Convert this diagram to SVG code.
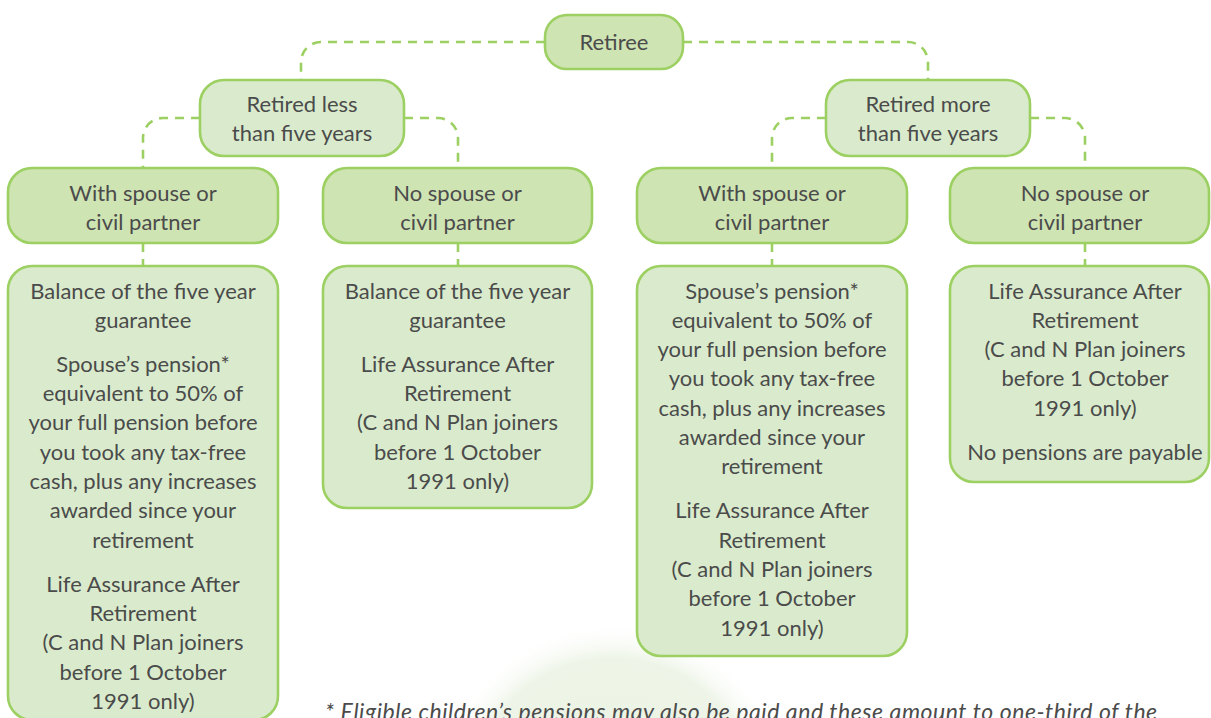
<svg xmlns="http://www.w3.org/2000/svg" width="1211" height="718" viewBox="0 0 1211 718">
<defs>
<radialGradient id="glow" cx="613" cy="800" r="178" gradientUnits="userSpaceOnUse">
<stop offset="0" stop-color="#e9f2e1"/>
<stop offset="0.8" stop-color="#eef5e8"/>
<stop offset="1" stop-color="#ffffff" stop-opacity="0"/>
</radialGradient>
<style>
.dk{fill:#cfe4b3;stroke:#9dd062;stroke-width:2.6}
.lt{fill:#daebcd;stroke:#9dd062;stroke-width:2.6}
.conn path{fill:none;stroke:#9dd062;stroke-width:2.6;stroke-dasharray:9 7}
text{font-family:Lato,"Liberation Sans",sans-serif;font-size:22px;fill:#4b4b4b;text-anchor:middle}
.note{font-style:italic;text-anchor:start;font-size:23px;letter-spacing:0.55px}
</style>
</defs>
<rect width="1211" height="718" fill="#ffffff"/>
<circle cx="613" cy="800" r="178" fill="url(#glow)"/>
<g id="connectors" class="conn">
<path d="M545,42 H321 A20,20 0 0 0 301,62 V80"/>
<path d="M683,42 H908 A20,20 0 0 1 928,62 V80"/>
<path d="M200,118 H163 A20,20 0 0 0 143,138 V168"/>
<path d="M404,118 H438 A20,20 0 0 1 458,138 V168"/>
<path d="M826,118 H792 A20,20 0 0 0 772,138 V168"/>
<path d="M1030,118 H1065 A20,20 0 0 1 1085,138 V168"/>
<path d="M143,243 V266"/>
<path d="M458,243 V266"/>
<path d="M772,243 V266"/>
<path d="M1085,243 V266"/>
</g>
<g id="retiree">
<rect class="dk" x="545" y="15" width="138" height="54" rx="22"/>
<text x="614" y="49.5">Retiree</text>
</g>
<g id="retired-less">
<rect class="lt" x="200" y="80" width="204" height="76" rx="24"/>
<text x="302" y="112">Retired less</text>
<text x="302" y="141">than five years</text>
</g>
<g id="retired-more">
<rect class="lt" x="826" y="80" width="204" height="76" rx="24"/>
<text x="928" y="112">Retired more</text>
<text x="928" y="141">than five years</text>
</g>
<g id="less-with-spouse">
<rect class="dk" x="8" y="168" width="270" height="75" rx="24"/>
<text x="143" y="200.5">With spouse or</text>
<text x="143" y="229.5">civil partner</text>
</g>
<g id="less-no-spouse">
<rect class="dk" x="323" y="168" width="269" height="75" rx="24"/>
<text x="457.5" y="200.5">No spouse or</text>
<text x="457.5" y="229.5">civil partner</text>
</g>
<g id="more-with-spouse">
<rect class="dk" x="637" y="168" width="270" height="75" rx="24"/>
<text x="772" y="200.5">With spouse or</text>
<text x="772" y="229.5">civil partner</text>
</g>
<g id="more-no-spouse">
<rect class="dk" x="950" y="168" width="259" height="75" rx="24"/>
<text x="1085" y="200.5">No spouse or</text>
<text x="1085" y="229.5">civil partner</text>
</g>
<g id="less-with-spouse-benefits">
<rect class="lt" x="8" y="266" width="270" height="454" rx="24"/>
<text x="143" y="298.5">Balance of the five year</text>
<text x="143" y="327.8">guarantee</text>
<text x="143" y="371.8">Spouse’s pension*</text>
<text x="143" y="401.1">equivalent to 50% of</text>
<text x="143" y="430.4">your full pension before</text>
<text x="143" y="459.7">you took any tax-free</text>
<text x="143" y="489">cash, plus any increases</text>
<text x="143" y="518.3">awarded since your</text>
<text x="143" y="547.6">retirement</text>
<text x="143" y="591.6">Life Assurance After</text>
<text x="143" y="620.9">Retirement</text>
<text x="143" y="650.2">(C and N Plan joiners</text>
<text x="143" y="679.5">before 1 October</text>
<text x="143" y="708.8">1991 only)</text>
</g>
<g id="less-no-spouse-benefits">
<rect class="lt" x="323" y="266" width="269" height="242" rx="24"/>
<text x="457.5" y="298.5">Balance of the five year</text>
<text x="457.5" y="327.8">guarantee</text>
<text x="457.5" y="371.8">Life Assurance After</text>
<text x="457.5" y="401.1">Retirement</text>
<text x="457.5" y="430.4">(C and N Plan joiners</text>
<text x="457.5" y="459.7">before 1 October</text>
<text x="457.5" y="489">1991 only)</text>
</g>
<g id="more-with-spouse-benefits">
<rect class="lt" x="637" y="266" width="270" height="390" rx="24"/>
<text x="772" y="298.5">Spouse’s pension*</text>
<text x="772" y="327.8">equivalent to 50% of</text>
<text x="772" y="357.1">your full pension before</text>
<text x="772" y="386.4">you took any tax-free</text>
<text x="772" y="415.7">cash, plus any increases</text>
<text x="772" y="445">awarded since your</text>
<text x="772" y="474.3">retirement</text>
<text x="772" y="518.3">Life Assurance After</text>
<text x="772" y="547.6">Retirement</text>
<text x="772" y="576.9">(C and N Plan joiners</text>
<text x="772" y="606.2">before 1 October</text>
<text x="772" y="635.5">1991 only)</text>
</g>
<g id="more-no-spouse-benefits">
<rect class="lt" x="950" y="266" width="259" height="216" rx="24"/>
<text x="1085" y="298.5">Life Assurance After</text>
<text x="1085" y="327.8">Retirement</text>
<text x="1085" y="357.1">(C and N Plan joiners</text>
<text x="1085" y="386.4">before 1 October</text>
<text x="1085" y="415.7">1991 only)</text>
<text x="1085" y="459.7">No pensions are payable</text>
</g>
<text class="note" x="325" y="720">* Eligible children’s pensions may also be paid and these amount to one-third of the</text>
</svg>
